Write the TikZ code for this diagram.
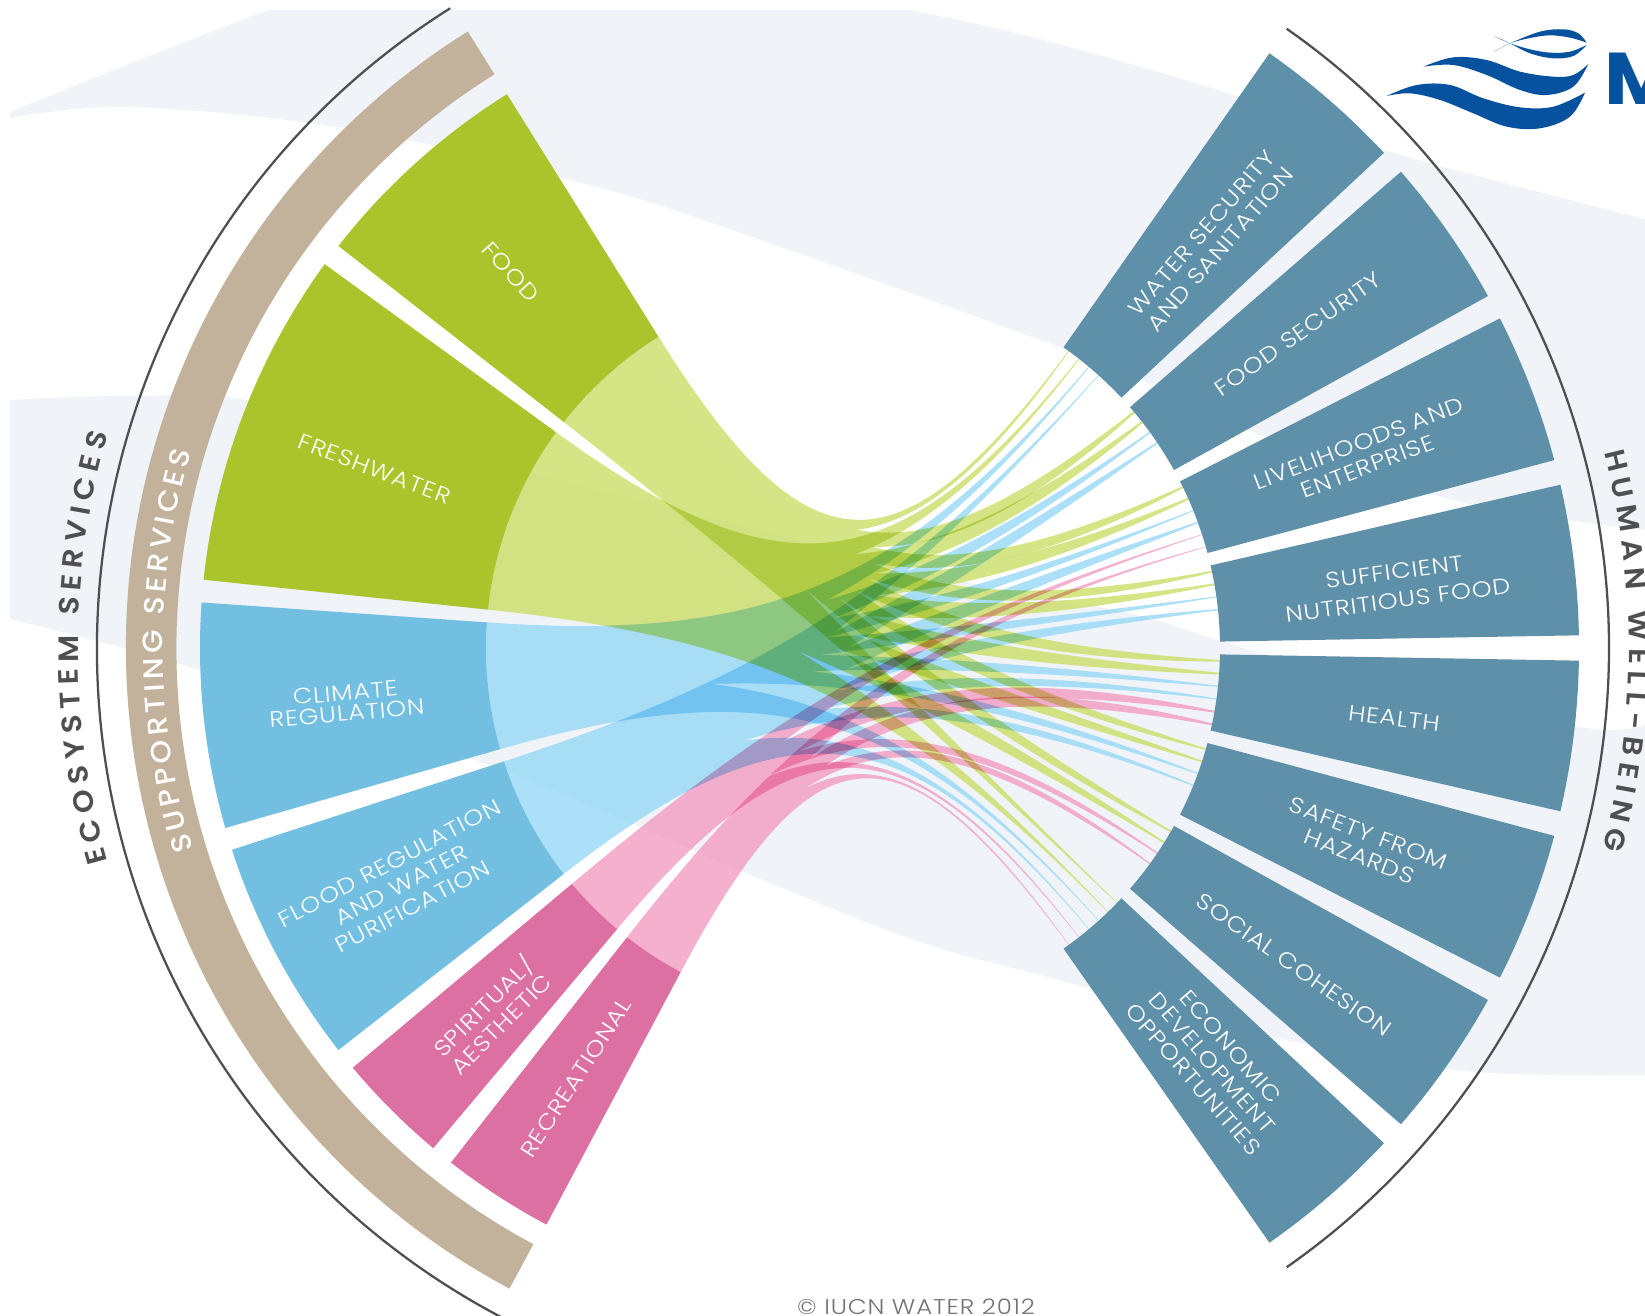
\documentclass[tikz,border=0pt]{standalone}
\usepackage{fontspec}
\usetikzlibrary{decorations.text}
\setmainfont{Poppins}
\newfontfamily\labelfont{Poppins Light}[FakeStretch=1.15, LetterSpace=4]
\newfontfamily\ringfont{Poppins Medium}[FakeStretch=1.08]
\newfontfamily\outerfont{Poppins SemiBold}[FakeStretch=1.08]
\newfontfamily\boldlogo{Poppins}[BoldFont=* Bold, FakeStretch=1.1]

\definecolor{paleband}{HTML}{F0F4F9}
\definecolor{greendark}{HTML}{ABC42B}
\definecolor{greenlight}{HTML}{D5E585}
\definecolor{bluedark}{HTML}{72BFE2}
\definecolor{bluelight}{HTML}{ABE0F8}
\definecolor{pinkdark}{HTML}{DD70A3}
\definecolor{pinklight}{HTML}{F5B0CE}
\definecolor{tealseg}{HTML}{5E90A9}
\definecolor{brownband}{HTML}{C2B29B}
\definecolor{ringline}{HTML}{4F4F51}
\definecolor{logoblue}{HTML}{06529F}

\tikzset{
  seglabel/.style={text=white, font=\labelfont\fontsize{16.5}{18.5}\selectfont, align=center, inner sep=0pt},
  ringtext/.style={decorate, decoration={text along path, text align={fit to path}, text={#1}}},
  logofill/.style={fill=logoblue, draw=none},
  underlay/.style={fill=white, opacity=0.8},
  greenrib/.style={fill=greenlight, blend mode=multiply},
  bluerib/.style={fill=bluelight, blend mode=multiply},
  pinkrib/.style={fill=pinklight, blend mode=multiply}
}

% one sector of a ring: angle from, angle to, inner radius, outer radius, colour
\newcommand{\sector}[5]{
  \fill[#5] (#1:#3) arc[start angle=#1, end angle=#2, radius=#3] -- (#2:#4)
    arc[start angle=#2, end angle=#1, radius=#4] -- cycle;
}
% all strands of one service: style, first angle, span, strands, list of target/width
\newcommand{\ribbon}[5]{
  \fill[#1]
  \foreach \tgt/\twd [count=\idx from 0,
      evaluate=\idx as \sa using {\idx<(#4-1) ? #2+#3*\idx*0.07 : #2+#3*0.5},
      evaluate=\idx as \sb using {\idx<(#4-1) ? #2+#3*(0.56+\idx*0.02) : #2+#3},
      evaluate=\tgt as \ta using {\tgt+\twd*0.3},
      evaluate=\tgt as \tb using {\tgt-\twd*0.3},
      evaluate=\tgt as \ca using {\tgt+\twd*14},
      evaluate=\tgt as \cb using {\tgt-\twd*14}] in {#5} {
    (\sa:367) arc[start angle=\sa, end angle=\sb, radius=367]
      .. controls (\sb:82.6) and (\cb:82.6) .. (\tb:367)
      arc[start angle=\tb, end angle=\ta, radius=367]
      .. controls (\ca:82.6) and (\sa:82.6) .. (\sa:367) -- cycle
  };
}
\newcommand{\allribbons}[3]{
  \ribbon{#1}{122}{20}{8}{54/.2, 40/.55, 26/.5, 12/.45, -2/.45, -16/.4, -30/.4, -44/.15}
  \ribbon{#1}{144}{30}{8}{52/.2, 38/.55, 24/.5, 10/.45, -4/.45, -18/.4, -32/.4, -46/.15}
  \ribbon{#2}{176}{20}{7}{50/.2, 36/.35, 22/.25, 8/.25, -6/.3, -20/.3, -48/.12}
  \ribbon{#2}{198}{20}{7}{48/.15, 34/.4, 20/.4, 6/.35, -8/.3, -22/.3, -50/.12}
  \ribbon{#3}{220}{10}{4}{18/.15, -10/.5, -34/.3, -52/.1}
  \ribbon{#3}{232}{10}{4}{16/.15, -12/.5, -36/.3, -54/.1}
}

\begin{document}
\begin{tikzpicture}[x=0.75pt, y=0.75pt]
  \clip (0,0) rectangle (1645,1315);

  % Background bands
  \begin{scope}[shift={(0,1315)}, y=-0.75pt]
    \clip (10,10) rectangle (1645,1315);
    \fill[paleband] plot[smooth, tension=0.6] coordinates {(10,112) (134,62) (268,10)}
      -- (910,10) -- plot[smooth, tension=0.6] coordinates {(910,10) (1040,39) (1240,97) (1387,151) (1645,219)}
      -- (1645,530) -- plot[smooth, tension=0.6] coordinates {(1645,530) (1453,500) (1256,433) (1170,393) (1062,348) (700,219) (558,177) (357,130) (134,107) (10,118)} -- cycle;
    \fill[paleband] plot[smooth, tension=0.6] coordinates {(10,400) (134,396) (268,404) (600,490) (950,578) (1128,613) (1218,640) (1368,685) (1585,728) (1645,724)}
      -- (1645,1075) -- plot[smooth, tension=0.6] coordinates {(1645,1075) (1465,1071) (1287,1040) (1040,975) (914,940) (746,873) (500,769) (200,670) (10,619)} -- cycle;
  \end{scope}

  % Logo
  \begin{scope}[shift={(1340,1315)}, x=0.25pt, y=-0.25pt]
    \fill[logofill] plot[smooth, tension=0.6] coordinates {(462,155) (510,130) (600,95) (670,88) (715,100) (740,128)}
      -- plot[smooth, tension=0.6] coordinates {(740,128) (690,113) (630,106) (570,114) (510,130) (462,155)} -- cycle;
    \fill[logofill] plot[smooth, tension=0.6] coordinates {(462,108) (510,130) (570,160) (640,175) (700,168) (740,135)}
      -- plot[smooth, tension=0.6] coordinates {(740,135) (690,155) (630,158) (570,148) (510,130) (462,108)} -- cycle;
    \fill[logofill] plot[smooth, tension=0.6] coordinates {(250,200) (340,172) (440,180) (540,215) (640,230) (700,225) (745,192)}
      -- plot[smooth, tension=0.6] coordinates {(745,192) (700,260) (620,285) (540,270) (440,225) (340,195) (250,200)} -- cycle;
    \fill[logofill] plot[smooth, tension=0.6] coordinates {(140,288) (230,255) (330,255) (430,295) (540,322) (640,320) (735,278)}
      -- plot[smooth, tension=0.6] coordinates {(735,278) (690,350) (600,385) (500,380) (400,340) (300,300) (210,280) (140,288)} -- cycle;
    \node (logom) at (792,315) [anchor=south west, inner sep=0pt, text=logoblue, font=\boldlogo\bfseries\fontsize{55}{55}\selectfont] {M};
  \end{scope}

  \begin{scope}[shift={(853,667)}]
    % Outer lines
    \draw[ringline, line width=1.7pt] (122.2:756) arc[start angle=122.2, end angle=243, radius=756];
    \draw[ringline, line width=1.7pt] (55:756) arc[start angle=55, end angle=-55, radius=756];
    \sector{122}{241.8}{676.5}{727}{brownband}

    % Ribbons
    \allribbons{underlay}{underlay}{underlay}
    \allribbons{greenrib}{bluerib}{pinkrib}

    % Services
    \sector{122}{142}{367}{653}{greendark}
    \sector{144}{174}{367}{653}{greendark}
    \sector{176}{196}{367}{653}{bluedark}
    \sector{198}{218}{367}{653}{bluedark}
    \sector{220}{230}{367}{653}{pinkdark}
    \sector{232}{242}{367}{653}{pinkdark}

    % Well-being
    \foreach \top in {55,41,27,13,-1,-15,-29,-43} {
      \pgfmathsetmacro{\bot}{\top-12}
      \sector{\bot}{\top}{367}{726}{tealseg}
    }

    % Ring texts
    \path[ringtext={|\ringfont\fontsize{21}{21}\selectfont\color{white}|SUPPORTING SERVICES}]
      (197:690) arc[start angle=197, end angle=163.5, radius=690];
    \path[ringtext={|\outerfont\fontsize{21}{21}\selectfont\color{ringline}|ECOSYSTEM SERVICES}]
      (196:775) arc[start angle=196, end angle=164, radius=775];
    \path[ringtext={|\outerfont\fontsize{21}{21}\selectfont\color{ringline}|HUMAN WELL-BEING}]
      (14.6:776) arc[start angle=14.6, end angle=-15, radius=776];
  \end{scope}

  % Service labels
  \node (food) at (511,1043) [seglabel, rotate=-48] {FOOD};
  \node (freshwater) at (374.5,846) [seglabel, rotate=-21] {FRESHWATER};
  \node (climate) at (346,612) [seglabel, rotate=5] {CLIMATE\\[-3pt]REGULATION};
  \node (flood) at (401,430) [seglabel, rotate=28] {FLOOD REGULATION\\AND WATER\\PURIFICATION};
  \node (spiritual) at (491,301) [seglabel, rotate=45] {SPIRITUAL/\\AESTHETIC};
  \node (recreational) at (576,237) [seglabel, rotate=57] {RECREATIONAL};

  % Well-being labels
  \node (water) at (1211,1074) [seglabel, rotate=49] {WATER SECURITY\\AND SANITATION};
  \node (foodsec) at (1298,981) [seglabel, rotate=35] {FOOD SECURITY};
  \node (livelihoods) at (1363,860) [seglabel, rotate=21] {LIVELIHOODS AND\\ENTERPRISE};
  \node (sufficient) at (1396,729) [seglabel, rotate=7.5] {SUFFICIENT\\[3pt]NUTRITIOUS FOOD};
  \node (health) at (1394,597) [seglabel, rotate=-7] {HEALTH};
  \node (safety) at (1364,470) [seglabel, rotate=-21] {SAFETY FROM\\HAZARDS};
  \node (social) at (1294,350) [seglabel, rotate=-35] {SOCIAL COHESION};
  \node (economic) at (1212,252) [seglabel, rotate=-49] {ECONOMIC\\DEVELOPMENT\\OPPORTUNITIES};

  \node (credit) at (916,1) [anchor=base, inner sep=0pt, text=ringline!80, font=\labelfont\fontsize{16}{16}\selectfont] {© IUCN WATER 2012};
\end{tikzpicture}
\end{document}
